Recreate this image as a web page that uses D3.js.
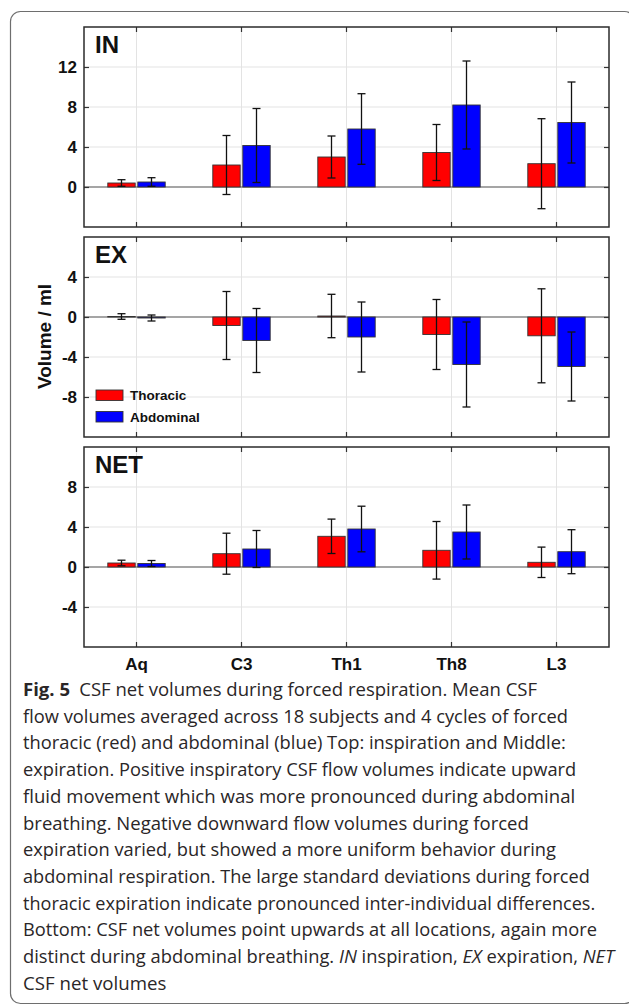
<!DOCTYPE html>
<html>
<head>
<meta charset="utf-8">
<script src="https://cdn.jsdelivr.net/npm/d3@7"></script>
<style>
  body { margin: 0; background: #fff; }
  svg { display: block; }
  .chart-text { font-family: "Liberation Sans", Arial, Helvetica, sans-serif; font-weight: bold; fill: #111; }
  .caption { font-family: "Open Sans", "Noto Sans", sans-serif; fill: #2a2627; }
</style>
</head>
<body>
<svg id="fig" width="629" height="1006"></svg>
<script>
// categories along x (spinal levels) and the two breathing modes
var categories = ["Aq", "C3", "Th1", "Th8", "L3"];
var seriesNames = ["Thoracic", "Abdominal"];
var seriesColors = ["#ff0000", "#0000ff"];

// IN - inspiration (mean, sd) in ml
var inThoracic = [0.4, 2.2, 3.0, 3.45, 2.33];
var inThoracicSd = [0.33, 2.95, 2.1, 2.8, 4.5];
var inAbdominal = [0.5, 4.15, 5.8, 8.2, 6.45];
var inAbdominalSd = [0.43, 3.7, 3.53, 4.4, 4.05];

// EX - expiration
var exThoracic = [0.05, -0.85, 0.1, -1.75, -1.88];
var exThoracicSd = [0.28, 3.4, 2.17, 3.5, 4.7];
var exAbdominal = [-0.1, -2.35, -2.0, -4.75, -4.95];
var exAbdominalSd = [0.3, 3.2, 3.5, 4.25, 3.45];

// NET - net volumes
var netThoracic = [0.4, 1.33, 3.07, 1.67, 0.47];
var netThoracicSd = [0.28, 2.05, 1.72, 2.88, 1.52];
var netAbdominal = [0.35, 1.8, 3.8, 3.5, 1.53];
var netAbdominalSd = [0.3, 1.85, 2.28, 2.7, 2.2];

// y ranges and tick labels for each panel
var inDomain = [-4, 16];
var inTicks = [0, 4, 8, 12];
var exDomain = [-12, 8];
var exTicks = [-8, -4, 0, 4];
var netDomain = [-8, 12];
var netTicks = [-4, 0, 4, 8];

var panels = [
    { title: "IN", domain: inDomain, ticks: inTicks, means: [inThoracic, inAbdominal], sds: [inThoracicSd, inAbdominalSd] },
    { title: "EX", domain: exDomain, ticks: exTicks, means: [exThoracic, exAbdominal], sds: [exThoracicSd, exAbdominalSd] },
    { title: "NET", domain: netDomain, ticks: netTicks, means: [netThoracic, netAbdominal], sds: [netThoracicSd, netAbdominalSd] }
];

var captionLines = [
    [["Fig. 5", "bold"], ["\u2002CSF net volumes during forced respiration. Mean CSF", ""]],
    [["flow volumes averaged across 18 subjects and 4 cycles of forced", ""]],
    [["thoracic (red) and abdominal (blue) Top: inspiration and Middle:", ""]],
    [["expiration. Positive inspiratory CSF flow volumes indicate upward", ""]],
    [["fluid movement which was more pronounced during abdominal", ""]],
    [["breathing. Negative downward flow volumes during forced", ""]],
    [["expiration varied, but showed a more uniform behavior during", ""]],
    [["abdominal respiration. The large standard deviations during forced", ""]],
    [["thoracic expiration indicate pronounced inter-individual differences.", ""]],
    [["Bottom: CSF net volumes point upwards at all locations, again more", ""]],
    [["distinct during abdominal breathing. ", ""], ["IN", "italic"], [" inspiration, ", ""], ["EX", "italic"], [" expiration, ", ""], ["NET", "italic"]],
    [["CSF net volumes", ""]]
];
var captionEnds = [537.5, 568.5, 566, 576.5, 575.5, 529, 556.5, 590, 595.5, 597.5, 615, 166.5];

var svg = d3.select("#fig");

// outer frame of the figure box
svg.append("rect")
    .attr("x", 10.5).attr("y", 11.5)
    .attr("width", 624).attr("height", 992)
    .attr("rx", 10).attr("ry", 10)
    .attr("fill", "none")
    .attr("stroke", "#6e6e6e")
    .attr("stroke-width", 1.2);

var left = 84, right = 609;
var panelTops = [27, 237, 447];
var panelH = 200;
var w = right - left;

var x = d3.scaleBand().domain(categories).range([left, right]).paddingInner(0).paddingOuter(0);
var bw = x.bandwidth();
var xInner = d3.scaleBand().domain(seriesNames).range([bw / 2 - 28.7, bw / 2 + 28.7]).paddingInner(0.087).paddingOuter(0);
function xc(c) { return x(c) + bw / 2; }

panels.forEach(function(p, pi) {
    var top = panelTops[pi];
    var bottom = top + panelH;
    var y = d3.scaleLinear().domain(p.domain).range([bottom, top]);
    var g = svg.append("g");

    // grid
    g.selectAll("line.hgrid").data(p.ticks).enter().append("line")
        .attr("x1", left).attr("x2", right)
        .attr("y1", function(d) { return y(d); })
        .attr("y2", function(d) { return y(d); })
        .attr("stroke", "#e3e3e3").attr("stroke-width", 1);
    g.selectAll("line.vgrid").data(categories).enter().append("line")
        .attr("x1", function(d) { return xc(d); })
        .attr("x2", function(d) { return xc(d); })
        .attr("y1", top).attr("y2", bottom)
        .attr("stroke", "#e3e3e3").attr("stroke-width", 1);

    // zero baseline
    g.append("line")
        .attr("x1", left).attr("x2", right)
        .attr("y1", y(0)).attr("y2", y(0))
        .attr("stroke", "#5a5a5a").attr("stroke-width", 1.1);

    // bars
    p.means.forEach(function(vals, si) {
        g.selectAll("rect.s" + si).data(vals).enter().append("rect")
            .attr("x", function(d, i) { return x(categories[i]) + xInner(seriesNames[si]); })
            .attr("width", xInner.bandwidth())
            .attr("y", function(d) { return Math.min(y(d), y(0)); })
            .attr("height", function(d) { return Math.abs(y(d) - y(0)); })
            .attr("fill", seriesColors[si])
            .attr("stroke", "#333")
            .attr("stroke-width", 0.9);
    });

    // error bars
    p.means.forEach(function(vals, si) {
        var sds = p.sds[si];
        vals.forEach(function(m, i) {
            var cx = x(categories[i]) + xInner(seriesNames[si]) + xInner.bandwidth() / 2;
            var e = g.append("g").attr("stroke", "#111").attr("stroke-width", 1.3);
            e.append("line").attr("x1", cx).attr("x2", cx).attr("y1", y(m + sds[i])).attr("y2", y(m - sds[i]));
            e.append("line").attr("x1", cx - 4).attr("x2", cx + 4).attr("y1", y(m + sds[i])).attr("y2", y(m + sds[i]));
            e.append("line").attr("x1", cx - 4).attr("x2", cx + 4).attr("y1", y(m - sds[i])).attr("y2", y(m - sds[i]));
        });
    });

    // axes with inward ticks, plain hyphen for negatives like the print
    var yl = g.append("g").attr("transform", "translate(" + left + ",0)")
        .call(d3.axisLeft(y).tickValues(p.ticks).tickSize(-5).tickPadding(7)
            .tickFormat(function(d) { return String(d); }));
    var yr = g.append("g").attr("transform", "translate(" + right + ",0)")
        .call(d3.axisRight(y).tickValues(p.ticks).tickSize(-5).tickFormat(""));
    var xt = g.append("g").attr("transform", "translate(0," + top + ")")
        .call(d3.axisTop(x).tickSize(-5).tickFormat(""));
    var xb = g.append("g").attr("transform", "translate(0," + bottom + ")")
        .call(d3.axisBottom(x).tickSize(-5).tickPadding(11).tickFormat(pi == 2 ? null : ""));
    [yl, yr, xt, xb].forEach(function(a) {
        a.select(".domain").remove();
        a.selectAll(".tick line").attr("stroke", "#333").attr("stroke-width", 1.2);
        a.selectAll(".tick text").attr("class", "chart-text").attr("font-size", 17).attr("fill", "#111");
    });

    // box
    g.append("rect")
        .attr("x", left).attr("y", top)
        .attr("width", w).attr("height", panelH)
        .attr("fill", "none")
        .attr("stroke", "#2b2b2b")
        .attr("stroke-width", 1.5);

    g.append("text")
        .attr("class", "chart-text")
        .attr("x", 95).attr("y", top + 26)
        .attr("font-size", 24)
        .text(p.title);

    // legend sits in the EX panel
    if (p.title == "EX") {
        var lg = g.selectAll("g.legend").data(seriesNames).enter().append("g")
            .attr("transform", function(d, i) { return "translate(96," + (top + 153 + i * 21.5) + ")"; });
        lg.append("rect")
            .attr("width", 27).attr("height", 10.5)
            .attr("fill", function(d, i) { return seriesColors[i]; })
            .attr("stroke", "#333").attr("stroke-width", 0.9);
        lg.append("text")
            .attr("class", "chart-text")
            .attr("x", 34).attr("y", 10)
            .attr("font-size", 13.5)
            .text(function(d) { return d; });
    }
});

svg.append("text")
    .attr("class", "chart-text")
    .attr("transform", "translate(50.5,336.5) rotate(-90)")
    .attr("text-anchor", "middle")
    .attr("font-size", 19)
    .text("Volume / ml");

// caption, each line squeezed to the width it has in the print
var capX = 23;
captionLines.forEach(function(segs, i) {
    var t = svg.append("text")
        .attr("class", "caption")
        .attr("font-size", 17.5)
        .attr("x", 0).attr("y", 0);
    segs.forEach(function(s) {
        t.append("tspan")
            .attr("font-weight", s[1] == "bold" ? "bold" : null)
            .attr("font-style", s[1] == "italic" ? "italic" : null)
            .text(s[0]);
    });
    var len = t.node().getComputedTextLength();
    var k = (captionEnds[i] - capX) / len;
    t.attr("transform", "translate(" + capX + "," + (696 + i * 26.7) + ") scale(" + k + ",1)");
});
</script>
</body>
</html>
